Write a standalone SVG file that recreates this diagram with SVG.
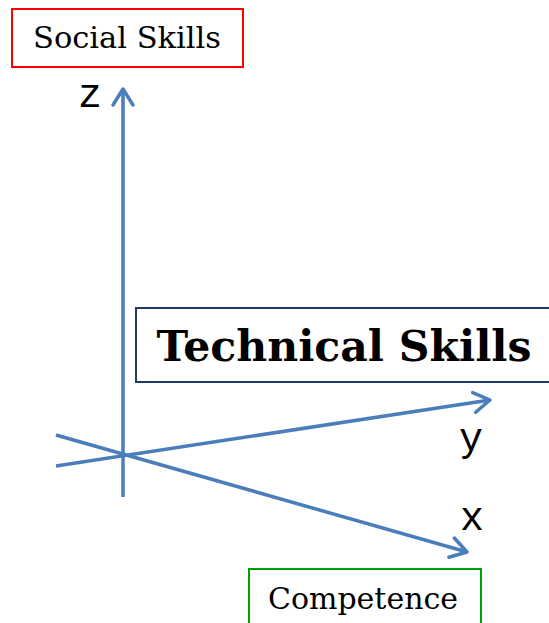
<svg xmlns="http://www.w3.org/2000/svg" width="549" height="623" viewBox="0 0 549 623">
<style>
.box{fill:#fff;stroke-width:2}
.lbl{font-family:"DejaVu Serif","Liberation Serif",serif;fill:#000}
.ax{font-family:"Liberation Mono","DejaVu Sans Mono",monospace;font-size:40px;fill:#000}
.axis{stroke:#4A7EBB;stroke-width:3.5;fill:none}
</style>
<defs>
<marker id="arr" markerUnits="userSpaceOnUse" markerWidth="30" markerHeight="30" refX="20" refY="15" orient="auto" viewBox="0 0 30 30">
<path d="M4,5 L20,15 L4,25" fill="none" stroke="#4A7EBB" stroke-width="3.5" stroke-linecap="round" stroke-linejoin="round"/>
</marker>
</defs>
<rect width="549" height="623" fill="#fff"/>
<g id="connectors">
<line class="axis" x1="123" y1="497" x2="123" y2="89" marker-end="url(#arr)"/>
<line class="axis" x1="56" y1="466" x2="490" y2="400" marker-end="url(#arr)"/>
<line class="axis" x1="56" y1="435" x2="467" y2="552" marker-end="url(#arr)"/>
</g>
<g id="social">
<rect class="box" x="12" y="9" width="231" height="58" stroke="#FF0000"/>
<text class="lbl" x="127" y="48" font-size="29.5" text-anchor="middle" textLength="188" lengthAdjust="spacingAndGlyphs">Social Skills</text>
</g>
<g id="technical">
<rect class="box" x="136" y="308" width="420" height="74" stroke="#1F3864"/>
<text class="lbl" x="344" y="361" font-size="42" font-weight="bold" text-anchor="middle" textLength="375" lengthAdjust="spacingAndGlyphs">Technical Skills</text>
</g>
<g id="competence">
<rect class="box" x="249" y="569" width="232" height="60" stroke="#00A000"/>
<text class="lbl" x="363" y="609" font-size="29.5" text-anchor="middle" textLength="190" lengthAdjust="spacingAndGlyphs">Competence</text>
</g>
<g id="labels">
<text class="ax" x="90" y="107" text-anchor="middle">z</text>
<text class="ax" x="471" y="451" text-anchor="middle">y</text>
<text class="ax" x="472" y="530" text-anchor="middle">x</text>
</g>
</svg>
